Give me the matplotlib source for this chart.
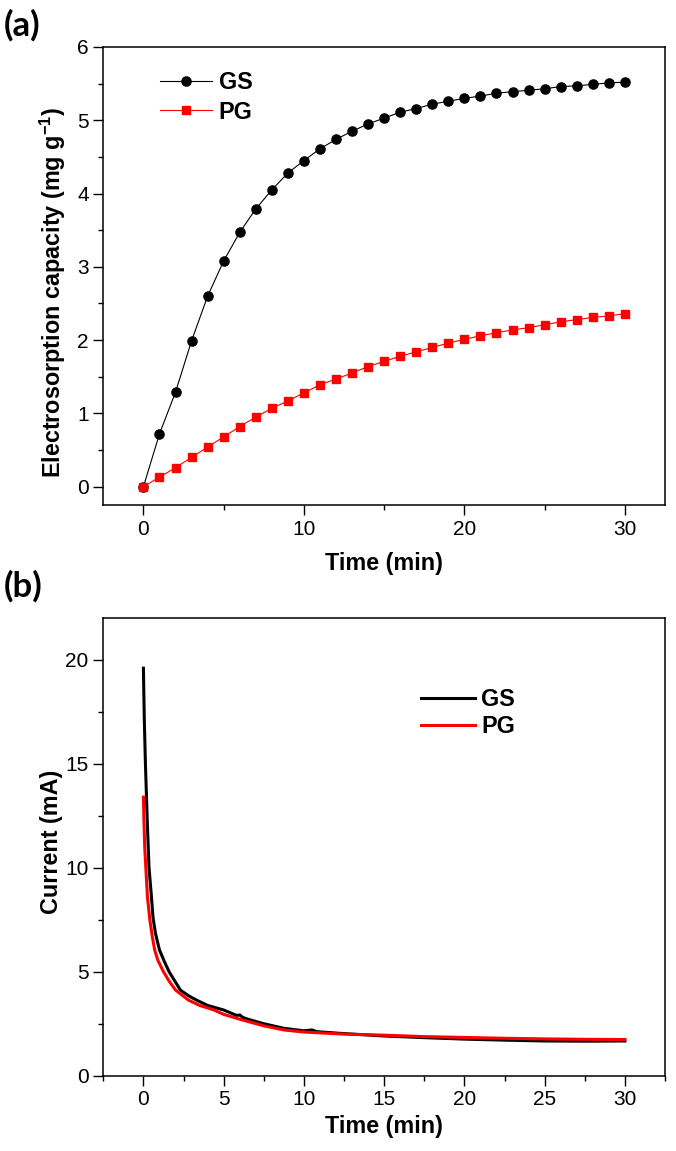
import matplotlib
matplotlib.use("Agg")
import matplotlib.pyplot as plt
from matplotlib.ticker import MultipleLocator

plt.rcParams['font.family'] = ['Liberation Sans', 'DejaVu Sans']
plt.rcParams['mathtext.default'] = 'regular'

# ---- Data (a): electrosorption capacity ----
time_a = list(range(0, 31))
gs_capacity = [0, 0.72, 1.29, 1.99, 2.60, 3.08, 3.47, 3.79, 4.05, 4.28, 4.45,
               4.61, 4.74, 4.85, 4.95, 5.03, 5.11, 5.16, 5.22, 5.26, 5.30,
               5.33, 5.37, 5.39, 5.41, 5.43, 5.46, 5.47, 5.49, 5.51, 5.52]
pg_capacity = [0, 0.13, 0.26, 0.40, 0.54, 0.68, 0.82, 0.95, 1.07, 1.17, 1.28,
               1.39, 1.47, 1.55, 1.64, 1.71, 1.78, 1.84, 1.90, 1.96, 2.01,
               2.06, 2.10, 2.14, 2.17, 2.21, 2.25, 2.28, 2.31, 2.33, 2.36]

# ---- Data (b): current ----
gs_time_b = [0, 0.05, 0.125, 0.25, 0.35, 0.5, 0.6, 0.75, 1.0, 1.3, 1.6, 2.0,
             2.3, 2.8, 3.3, 4.0, 5.0, 5.8, 6.0, 6.2, 6.5, 7.5, 8.75, 10.0,
             10.5, 10.8, 12.2, 15, 17.5, 20, 22.5, 25, 27.5, 30]
gs_current = [19.6, 17.3, 15.0, 12.0, 10.0, 8.6, 7.6, 6.85, 6.05, 5.5, 5.0,
              4.5, 4.12, 3.85, 3.64, 3.38, 3.16, 2.9, 2.92, 2.8, 2.72, 2.5,
              2.28, 2.16, 2.2, 2.12, 2.04, 1.91, 1.83, 1.76, 1.71, 1.67,
              1.66, 1.67]
pg_time_b = [0, 0.03, 0.08, 0.15, 0.25, 0.4, 0.55, 0.7, 0.9, 1.25, 1.6, 2.0,
             2.8, 3.5, 4.4, 5.0, 6.25, 7.5, 8.75, 10, 12.5, 15, 17.5, 20,
             22.5, 25, 27.5, 30]
pg_current = [13.4, 12.3, 11.0, 10.0, 8.6, 7.5, 6.7, 6.05, 5.55, 5.0, 4.55,
              4.12, 3.64, 3.38, 3.16, 2.95, 2.66, 2.4, 2.2, 2.1, 2.0, 1.95,
              1.88, 1.84, 1.8, 1.77, 1.75, 1.74]

fig = plt.figure(figsize=(6.76, 11.51), dpi=100)
W, H = 676, 1151

def px_axes(left, top, right, bottom):
    return fig.add_axes([left / W, 1 - bottom / H, (right - left) / W, (bottom - top) / H])

ax1 = px_axes(103.3, 47, 665, 505)
ax2 = px_axes(103.3, 618.3, 665, 1075.7)

TICK_FS = 15
LABEL_FS = 16.8
LEG_FS = 16.8

def style(ax):
    for s in ax.spines.values():
        s.set_linewidth(1.1)
    ax.tick_params(which='major', direction='out', length=7, width=1.0,
                   labelsize=TICK_FS, top=False, right=False)
    ax.tick_params(which='minor', direction='out', length=3.6, width=1.0,
                   top=False, right=False)
    ax.tick_params(axis='x', which='major', pad=3.5)
    ax.tick_params(axis='y', which='major', pad=3.5)

# Panel (a)
ax1.plot(time_a, gs_capacity, color='black', lw=0.8, marker='o', ms=6.6,
         mfc='black', mec='black', label='GS')
ax1.plot(time_a, pg_capacity, color='red', lw=0.8, marker='s', ms=5.8,
         mfc='red', mec='red', label='PG')
ax1.set_xlim(-2.5, 32.5)
ax1.set_ylim(-0.25, 6)
ax1.xaxis.set_major_locator(MultipleLocator(10))
ax1.xaxis.set_minor_locator(MultipleLocator(5))
ax1.yaxis.set_major_locator(MultipleLocator(1))
ax1.yaxis.set_minor_locator(MultipleLocator(0.5))
style(ax1)
ax1.set_xlabel('Time (min)', fontsize=LABEL_FS, fontweight='bold', labelpad=9.5)
ax1.set_ylabel('Electrosorption capacity (mg g$^{-1}$)', fontsize=LABEL_FS,
               fontweight='bold')
ax1.yaxis.set_label_coords(-0.062, 0.463)
ax1.legend(loc='upper left', bbox_to_anchor=(0.101, 0.947), frameon=False,
           prop={'weight': 'bold', 'size': LEG_FS}, handlelength=2.23,
           handletextpad=0.28, labelspacing=0.27, borderpad=0,
           borderaxespad=0)

# Panel (b)
ax2.plot(gs_time_b, gs_current, color='black', lw=2.2, label='GS')
ax2.plot(pg_time_b, pg_current, color='red', lw=2.2, label='PG')
ax2.set_xlim(-2.5, 32.5)
ax2.set_ylim(0, 22)
ax2.xaxis.set_major_locator(MultipleLocator(5))
ax2.xaxis.set_minor_locator(MultipleLocator(2.5))
ax2.yaxis.set_major_locator(MultipleLocator(5))
ax2.yaxis.set_minor_locator(MultipleLocator(2.5))
style(ax2)
ax2.set_xlabel('Time (min)', fontsize=LABEL_FS, fontweight='bold', labelpad=4)
ax2.set_ylabel('Current (mA)', fontsize=LABEL_FS, fontweight='bold')
ax2.yaxis.set_label_coords(-0.072, 0.512)
ax2.legend(loc='upper left', bbox_to_anchor=(0.566, 0.848), frameon=False,
           prop={'weight': 'bold', 'size': LEG_FS}, handlelength=2.3,
           handletextpad=0.28, labelspacing=0.19, borderpad=0,
           borderaxespad=0)

fig.text(4 / W, 1 - 9 / H, '(a)', fontsize=25, fontweight='bold',
         family=['Lato', 'DejaVu Sans'], ha='left', va='top')
fig.text(4 / W, 1 - 570 / H, '(b)', fontsize=25, fontweight='bold',
         family=['Lato', 'DejaVu Sans'], ha='left', va='top')

fig.savefig('out.png', dpi=100)
